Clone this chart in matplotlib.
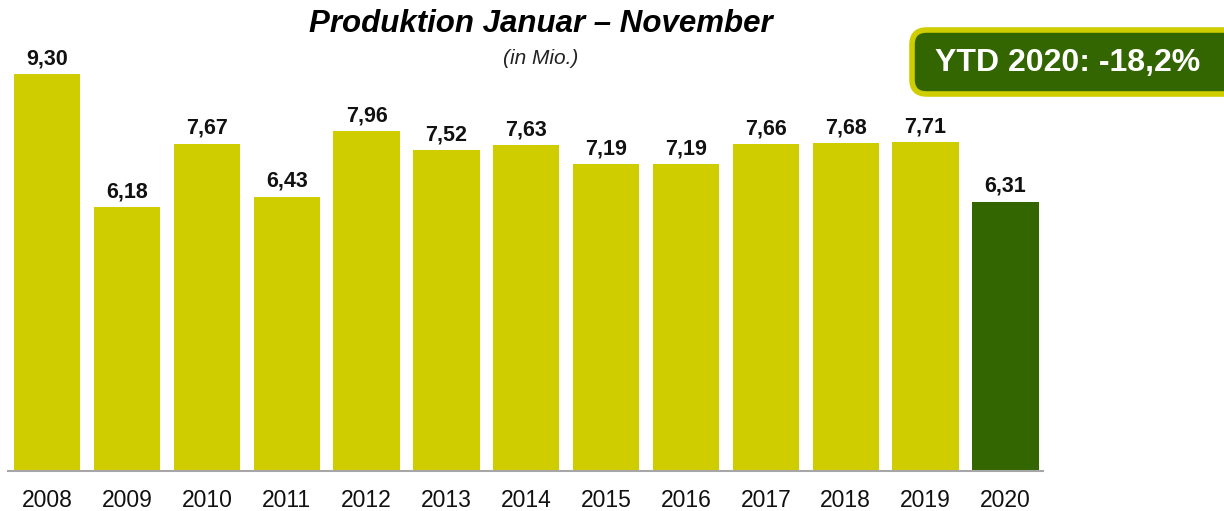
import matplotlib
matplotlib.use("Agg")
import matplotlib.pyplot as plt
from matplotlib.patches import FancyBboxPatch

years = ["2008", "2009", "2010", "2011", "2012", "2013", "2014",
         "2015", "2016", "2017", "2018", "2019", "2020"]
values = [9.30, 6.18, 7.67, 6.43, 7.96, 7.52, 7.63, 7.19, 7.19, 7.66, 7.68, 7.71, 6.31]
labels = ["9,30", "6,18", "7,67", "6,43", "7,96", "7,52", "7,63",
          "7,19", "7,19", "7,66", "7,68", "7,71", "6,31"]
title = "Produktion Januar \u2013 November"
subtitle = "(in Mio.)"
badge = "YTD 2020: -18,2%"

YELLOW = "#CFCC00"
GREEN = "#336600"

plt.rcParams["font.family"] = ["Liberation Sans", "DejaVu Sans"]

W, H = 1224, 511
fig = plt.figure(figsize=(W / 100, H / 100), dpi=100)
ax = fig.add_axes([8 / W, 1 - 471 / H, 1035 / W, 448 / H])

colors = [YELLOW] * (len(values) - 1) + [GREEN]
x = range(len(values))
bars = ax.bar(x, values, width=0.83, color=colors, zorder=2)
ax.set_xlim(-0.49, 12.47)
ax.set_ylim(0, 10.5)

for b, lab in zip(bars, labels):
    ax.annotate(lab, (b.get_x() + b.get_width() / 2, b.get_height()),
                xytext=(0, 3.5), textcoords="offset points",
                ha="center", va="bottom", fontsize=15.5, fontweight="bold",
                color="#111111")

ax.set_xticks(list(x))
ax.set_xticklabels(years, fontsize=16.5, color="#111111")
ax.tick_params(axis="x", length=0, pad=13)
ax.set_yticks([])
for s in ["top", "right", "left"]:
    ax.spines[s].set_visible(False)
ax.spines["bottom"].set_color("#A6A6A6")
ax.spines["bottom"].set_linewidth(1.5)
ax.set_facecolor("none")

fig.text(541 / W, 1 - 24 / H, title, ha="center", va="center",
         fontsize=22.5, fontweight="bold", fontstyle="italic", color="#000000")
fig.text(541 / W, 1 - 58 / H, subtitle, ha="center", va="center",
         fontsize=15, fontstyle="italic", color="#222222")

box = FancyBboxPatch((912 / W, 1 - 94 / H), 330 / W, 64 / H,
                     boxstyle="round,pad=0,rounding_size=0.012",
                     transform=fig.transFigure, facecolor=GREEN,
                     edgecolor=YELLOW, linewidth=4, mutation_aspect=W / H)
fig.patches.append(box)
fig.text(1068 / W, 1 - 63 / H, badge, ha="center", va="center",
         fontsize=23, fontweight="bold", color="white")

fig.savefig("out.png", dpi=100)
